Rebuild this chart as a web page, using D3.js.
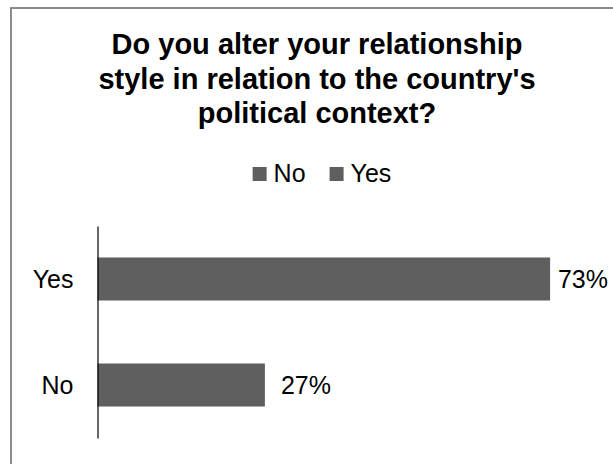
<!DOCTYPE html>
<html>
<head>
<meta charset="utf-8">
<script src="https://cdn.jsdelivr.net/npm/d3@7"></script>
<style>
  html, body { margin: 0; padding: 0; background: #fff; }
  svg { display: block; }
  text { font-family: "Liberation Sans", Arial, sans-serif; fill: #000; }
</style>
</head>
<body>
<svg id="chart" width="613" height="464"></svg>
<script>
// Survey answers
const categories = ["Yes", "No"];
const shares = [0.73, 0.27];
const legendItems = ["No", "Yes"];
const titleLines = [
  "Do you alter your relationship",
  "style in relation to the country's",
  "political context?"
];

const W = 613, H = 464;
const barColor = "#5f5f5f";
const svg = d3.select("#chart");

// Outer chart frame (right and bottom edges run past the page)
svg.append("rect")
  .attr("x", 11).attr("y", 8)
  .attr("width", W + 20).attr("height", H + 20)
  .attr("fill", "#fff")
  .attr("stroke", "#8c8c8c")
  .attr("stroke-width", 2);

// Title
const title = svg.append("text")
  .attr("text-anchor", "middle")
  .style("font-size", "29px")
  .style("font-weight", "bold");
titleLines.forEach((line, i) => {
  title.append("tspan")
    .attr("x", 317)
    .attr("y", 54 + i * 34.5)
    .text(line);
});

// Legend
const legend = svg.append("g").attr("class", "legend");
const items = legend.selectAll("g").data(legendItems).join("g");
items.append("rect")
  .attr("width", 14).attr("height", 14)
  .attr("y", -15)
  .attr("fill", barColor);
items.append("text")
  .attr("x", 21)
  .style("font-size", "25px")
  .text(d => d);
let offset = 0;
items.each(function () {
  const g = d3.select(this);
  g.attr("transform", `translate(${offset},0)`);
  offset += this.getBBox().width + 24;
});
const legendW = offset - 24;
legend.attr("transform", `translate(${322 - legendW / 2},182)`);

// Scales
const x = d3.scaleLinear().domain([0, 1]).range([97.5, 717.5]);
const y = d3.scaleBand()
  .domain(categories)
  .range([226, 438])
  .paddingInner(0.594)
  .paddingOuter(0.297);

// Bars
svg.append("g").selectAll("rect")
  .data(categories)
  .join("rect")
  .attr("x", x(0))
  .attr("y", d => y(d))
  .attr("width", (d, i) => x(shares[i]) - x(0))
  .attr("height", y.bandwidth())
  .attr("fill", barColor);

// Category axis
const axis = svg.append("g")
  .attr("transform", `translate(${x(0)},0)`)
  .call(d3.axisLeft(y).tickSize(0).tickPadding(24));
axis.select(".domain").attr("stroke", "#000").attr("stroke-width", 1.2);
axis.selectAll("text")
  .style("font-size", "25px")
  .style("font-family", "'Liberation Sans', Arial, sans-serif")
  .attr("fill", "#000")
  .attr("dy", "0.35em");

// Value labels, kept inside the frame
const fmt = d3.format(".0%");
svg.append("g").selectAll("text")
  .data(categories)
  .join("text")
  .style("font-size", "25px")
  .attr("y", d => y(d) + y.bandwidth() / 2)
  .attr("dy", "0.35em")
  .text((d, i) => fmt(shares[i]))
  .attr("x", function (d, i) {
    const w = this.getComputedTextLength();
    return Math.min(x(shares[i]) + 16, 608 - w);
  });
</script>
</body>
</html>
